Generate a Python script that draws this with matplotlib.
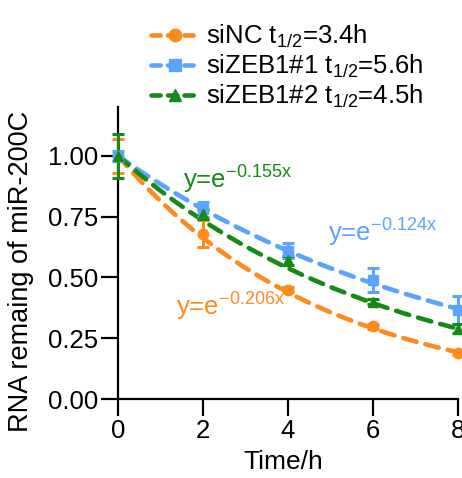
import numpy as np
import matplotlib
matplotlib.use("Agg")
import matplotlib.pyplot as plt

plt.rcParams['font.family'] = ['Liberation Sans', 'DejaVu Sans']
plt.rcParams['mathtext.fontset'] = 'custom'
plt.rcParams['mathtext.rm'] = 'Liberation Sans'
plt.rcParams['mathtext.it'] = 'Liberation Sans'
plt.rcParams['mathtext.default'] = 'regular'

time = [0, 2, 4, 6, 8]
labels = ['siNC t$_{1/2}$=3.4h', 'siZEB1#1 t$_{1/2}$=5.6h', 'siZEB1#2 t$_{1/2}$=4.5h']
colors = ['#FF8A1C', '#5AA4FF', '#168A16']
markers = ['o', 's', '^']
means = [
    [1.00, 0.68, 0.45, 0.30, 0.19],
    [1.00, 0.78, 0.61, 0.49, 0.365],
    [1.00, 0.76, 0.57, 0.40, 0.29],
]
errs = [
    [0.07, 0.055, 0.01, 0.01, 0.01],
    [0.02, 0.03, 0.03, 0.05, 0.058],
    [0.09, 0.02, 0.02, 0.01, 0.02],
]
rates = [0.206, 0.124, 0.155]
eq_texts = ['y=e$^{-0.206x}$', 'y=e$^{-0.124x}$', 'y=e$^{-0.155x}$']
eq_pos = [(1.36, 0.343), (4.94, 0.649), (1.53, 0.864)]

FS = 18.5

fig = plt.figure(figsize=(4.62, 4.78), dpi=100)
ax = fig.add_axes([0.2554, 0.165, 0.736, 0.611])

xfit = np.linspace(0, 8, 200)
handles = []
for i in range(3):
    ax.errorbar(time, means[i], yerr=errs[i], fmt=markers[i], color=colors[i],
                ms=7.5, capsize=4, elinewidth=2.2, capthick=2.2, clip_on=False, zorder=3)
    ax.plot(xfit, np.exp(-rates[i] * xfit), '--', color=colors[i], lw=3.3,
            dashes=(3.0, 2.0), dash_capstyle='round', zorder=2, clip_on=False)
    h, = ax.plot([], [], '--', color=colors[i], lw=3.3, marker=markers[i], ms=9,
                 dashes=(2.0, 1.6), dash_capstyle='round')
    handles.append(h)
    ax.text(eq_pos[i][0], eq_pos[i][1], eq_texts[i], color=colors[i], fontsize=FS,
            va='baseline', ha='left')

ax.set_xlim(0, 8)
ax.set_ylim(0, 1.2)
ax.set_xticks([0, 2, 4, 6, 8])
ax.set_yticks([0, 0.25, 0.5, 0.75, 1.0])
ax.set_yticklabels(['0.00', '0.25', '0.50', '0.75', '1.00'])
ax.spines['top'].set_visible(False)
ax.spines['right'].set_visible(False)
for s in ['left', 'bottom']:
    ax.spines[s].set_linewidth(1.6)
ax.tick_params(width=1.6, length=12, labelsize=FS, pad=2)
ax.set_xlabel('Time/h', fontsize=19)
ax.set_ylabel('RNA remaing of miR-200C', fontsize=19.5)
ax.xaxis.set_label_coords(0.487, -0.175)
ax.yaxis.set_label_coords(-0.247, 0.438)

fig.legend(handles, labels, loc='upper left', bbox_to_anchor=(0.276, 1.0),
           frameon=False, fontsize=FS, handlelength=1.87, handletextpad=0.27,
           labelspacing=0.1)

fig.savefig('out.png', dpi=100)
